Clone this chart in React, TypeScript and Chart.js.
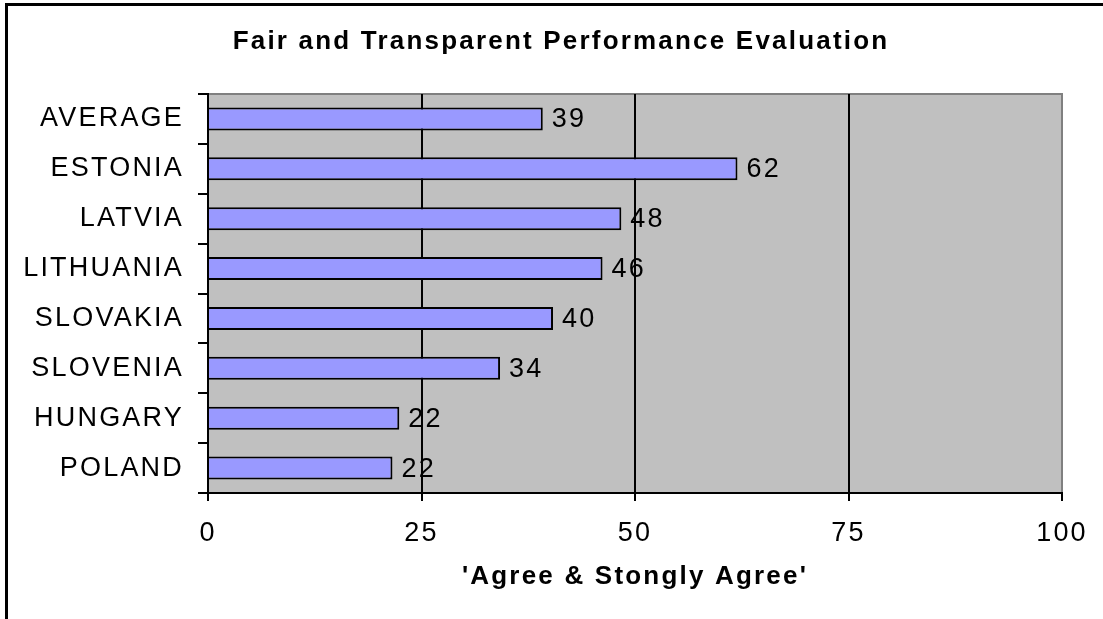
import React, { useEffect, useRef } from "react";
import { Chart, registerables } from "chart.js";

Chart.register(...registerables);

const categories = ["AVERAGE", "ESTONIA", "LATVIA", "LITHUANIA", "SLOVAKIA", "SLOVENIA", "HUNGARY", "POLAND"];
const values = [39.2, 62, 48.4, 46.2, 40.4, 34.2, 22.4, 21.6];
const valueLabels = ["39", "62", "48", "46", "40", "34", "22", "22"];
const xTicks = [0, 25, 50, 75, 100];

const FONT = "'Liberation Sans', Arial, sans-serif";
const SPACING = "2.2px";

const backgroundPlugin = {
  id: "bgPlugin",
  afterLayout(chart: any) {
    // the reference title is centred a little to the right of the full width
    const tb = chart.titleBlock;
    if (tb) {
      tb.left += 30;
      tb.right += 30;
    }
  },
  beforeDraw(chart: any) {
    const { ctx, chartArea } = chart;
    ctx.save();
    ctx.fillStyle = "#ffffff";
    ctx.fillRect(0, 0, chart.width, chart.height);
    // outer frame
    ctx.strokeStyle = "#000000";
    ctx.lineWidth = 3;
    ctx.beginPath();
    ctx.moveTo(6.5, chart.height + 5);
    ctx.lineTo(6.5, 4.5);
    ctx.lineTo(chart.width + 5, 4.5);
    ctx.stroke();
    // plot area
    ctx.fillStyle = "#C0C0C0";
    ctx.fillRect(chartArea.left, chartArea.top, chartArea.right - chartArea.left, chartArea.bottom - chartArea.top);
    ctx.strokeStyle = "#808080";
    ctx.lineWidth = 2;
    ctx.beginPath();
    ctx.moveTo(chartArea.left, chartArea.top);
    ctx.lineTo(chartArea.right, chartArea.top);
    ctx.lineTo(chartArea.right, chartArea.bottom);
    ctx.stroke();
    ctx.restore();
    // wide letter spacing like the reference rendering (persists for the rest of the draw)
    (ctx as any).letterSpacing = SPACING;
  },
};

const labelPlugin = {
  id: "valueLabels",
  afterDatasetsDraw(chart: any) {
    const { ctx } = chart;
    const meta = chart.getDatasetMeta(0);
    ctx.save();
    (ctx as any).letterSpacing = SPACING;
    ctx.fillStyle = "#000000";
    ctx.font = `27px ${FONT}`;
    ctx.textAlign = "left";
    ctx.textBaseline = "middle";
    meta.data.forEach((el: any, i: number) => {
      ctx.fillText(valueLabels[i], el.x + 9, el.y + 1);
    });
    ctx.restore();
  },
};

export default function App() {
  const ref = useRef<HTMLCanvasElement | null>(null);
  useEffect(() => {
    document.body.style.margin = "0";
    if (!ref.current) return;
    const chart = new Chart(ref.current, {
      type: "bar",
      data: {
        labels: categories,
        datasets: [
          {
            data: values,
            backgroundColor: "#9999FF",
            borderColor: "#000000",
            borderWidth: 2,
            barPercentage: 0.46,
            categoryPercentage: 1,
          },
        ],
      },
      options: {
        indexAxis: "y",
        responsive: false,
        animation: false,
        layout: { padding: { left: 0, right: 41, top: 0, bottom: 0 } },
        plugins: {
          legend: { display: false },
          tooltip: { enabled: false },
          title: {
            display: true,
            text: "Fair and Transparent Performance Evaluation",
            color: "#000000",
            font: { family: FONT, size: 26, weight: "bold", lineHeight: 1.2 },
            padding: { top: 26, bottom: 36.8 },
          },
        },
        scales: {
          x: {
            type: "linear",
            min: 0,
            max: 100,
            afterBuildTicks(scale: any) {
              scale.ticks = xTicks.map((v) => ({ value: v }));
            },
            afterFit(scale: any) {
              scale.height = 126;
            },
            ticks: {
              color: "#000000",
              font: { family: FONT, size: 27 },
              padding: 16,
            },
            grid: {
              color: (c: any) => (c.tick && c.tick.value === 100 ? "#808080" : "#000000"),
              tickColor: "#000000",
              lineWidth: 2,
              tickLength: 8,
            },
            border: { color: "#000000", width: 2 },
            title: {
              display: true,
              text: "'Agree & Stongly Agree'",
              color: "#000000",
              font: { family: FONT, size: 26, weight: "bold", lineHeight: 1.2 },
              padding: { top: 10, bottom: 26.8 },
            },
          },
          y: {
            type: "category",
            afterFit(scale: any) {
              scale.width = 208;
            },
            ticks: {
              color: "#000000",
              font: { family: FONT, size: 27 },
              padding: 14,
            },
            grid: {
              offset: true,
              drawOnChartArea: false,
              color: "#000000",
              lineWidth: 2,
              tickLength: 10,
            },
            border: { color: "#000000", width: 2 },
          },
        },
      },
      plugins: [backgroundPlugin, labelPlugin],
    });
    return () => chart.destroy();
  }, []);
  return (
    <div style={{ width: 1103, height: 619 }}>
      <canvas ref={ref} width={1103} height={619} />
    </div>
  );
}
